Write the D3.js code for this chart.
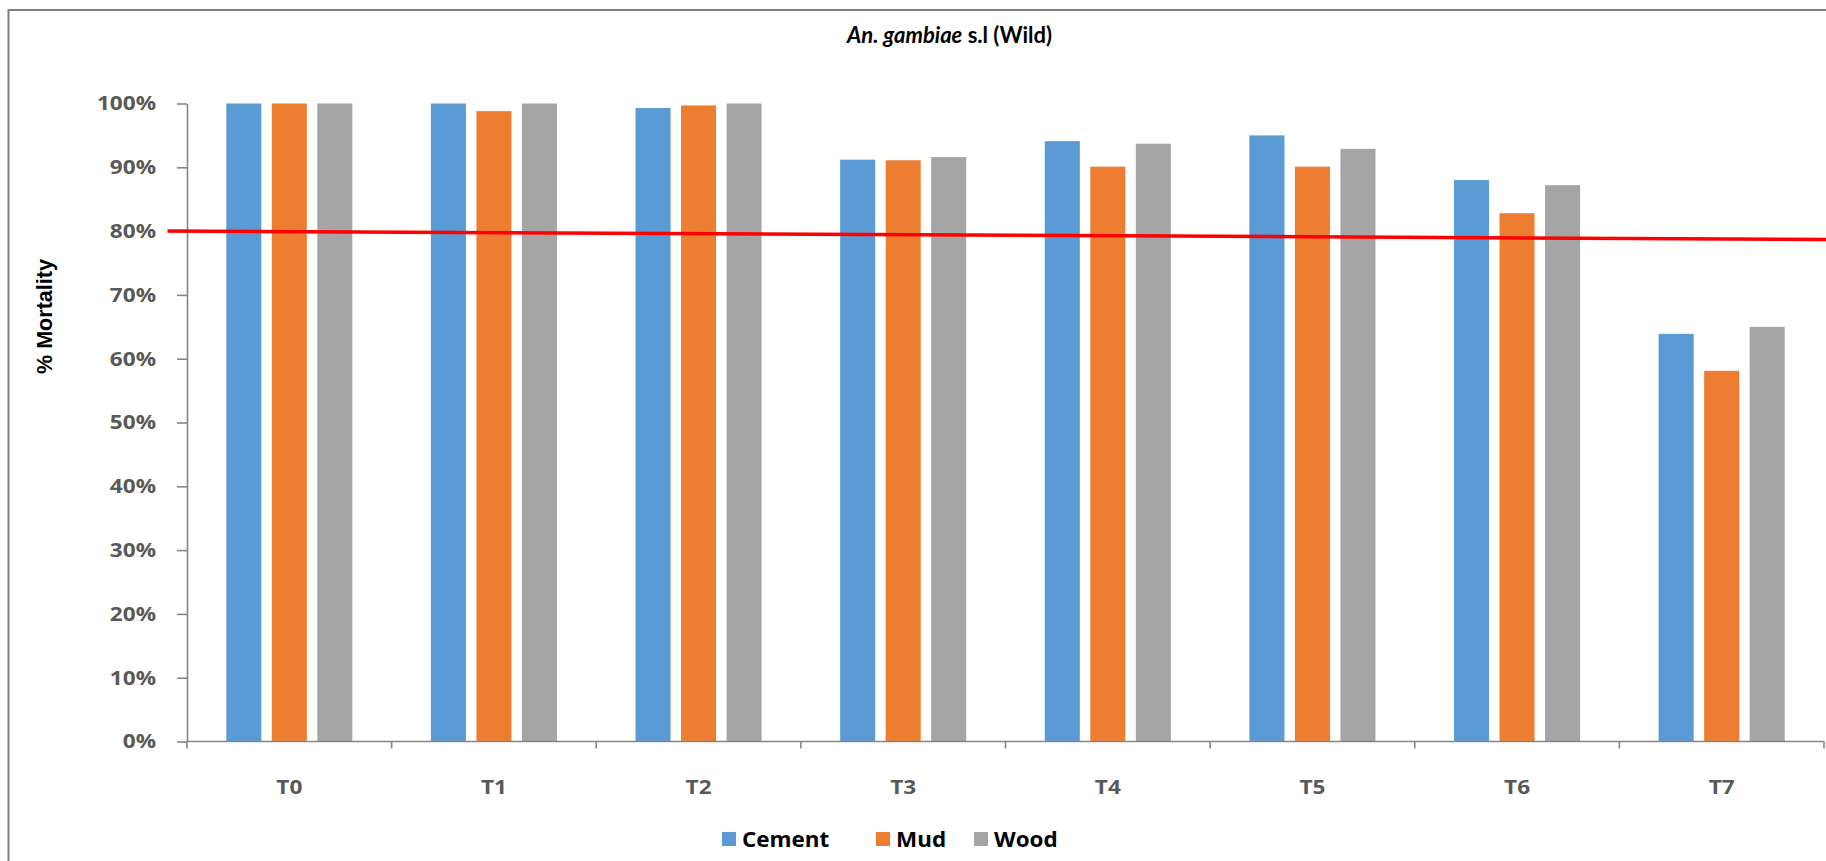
<!DOCTYPE html>
<html>
<head>
<meta charset="utf-8">
<script src="https://cdn.jsdelivr.net/npm/d3@7"></script>
<style>
  html, body { margin: 0; padding: 0; background: #fff; }
  svg { display: block; }
</style>
</head>
<body>
<svg id="chart" width="1826" height="861"></svg>
<script>
// ---- data ----
const categories = ["T0", "T1", "T2", "T3", "T4", "T5", "T6", "T7"];
const seriesNames = ["Cement", "Mud", "Wood"];
const cement = [1.00, 1.00, 0.993, 0.912, 0.941, 0.950, 0.880, 0.639];
const mud    = [1.00, 0.988, 0.997, 0.911, 0.901, 0.901, 0.828, 0.581];
const wood   = [1.00, 1.00, 1.00, 0.916, 0.937, 0.929, 0.872, 0.650];
const seriesColors = ["#5B9BD5", "#ED7D31", "#A5A5A5"];
const yTickValues = [0, 0.1, 0.2, 0.3, 0.4, 0.5, 0.6, 0.7, 0.8, 0.9, 1.0];
// 80% mortality threshold line, value at its left and right ends
const thresholdEnds = [0.80, 0.787];
const titleItalic = "An. gambiae";
const titleRest = " s.l (Wild)";
const yAxisTitle = "% Mortality";

const seriesValues = [cement, mud, wood];
const rows = categories.map((c, i) => ({
  cat: c,
  vals: seriesNames.map((s, j) => ({ key: s, value: seriesValues[j][i], color: seriesColors[j] }))
}));

// ---- layout ----
const W = 1826, H = 861;
const plot = { left: 187, right: 1824, top: 103.5, bottom: 741.5 };
const axisColor = "#868686";
const tickFont = "'Open Sans', sans-serif";
const hStretch = 1.13; // horizontal widening applied to the axis text

const svg = d3.select("#chart");

// stretch a text selection horizontally by factor k
function stretch(sel, k) {
  sel.each(function () {
    const w = this.getComputedTextLength();
    d3.select(this).attr("textLength", w * k).attr("lengthAdjust", "spacingAndGlyphs");
  });
}
function fitTo(sel, width) {
  sel.attr("textLength", width).attr("lengthAdjust", "spacingAndGlyphs");
}

// chart frame
svg.append("rect")
  .attr("x", 8.5).attr("y", 10)
  .attr("width", W + 20).attr("height", H + 20)
  .attr("fill", "#fff")
  .attr("stroke", "#7f7f7f").attr("stroke-width", 2);

// ---- scales ----
const x0 = d3.scaleBand().domain(categories).range([plot.left, plot.right]).paddingInner(0).paddingOuter(0);
const x1 = d3.scaleBand().domain(seriesNames).range([0, x0.bandwidth()]).paddingInner(0.23).paddingOuter(0.863);
const y = d3.scaleLinear().domain([0, 1]).range([plot.bottom, plot.top]);

// ---- bars ----
const groups = svg.append("g").selectAll("g")
  .data(rows).join("g")
  .attr("transform", d => `translate(${x0(d.cat)},0)`);
groups.selectAll("rect")
  .data(d => d.vals).join("rect")
  .attr("x", d => x1(d.key))
  .attr("y", d => y(d.value))
  .attr("width", x1.bandwidth())
  .attr("height", d => y(0) - y(d.value))
  .attr("fill", d => d.color);

// ---- y axis ----
const yAxis = svg.append("g")
  .attr("transform", `translate(${plot.left},0)`)
  .call(d3.axisLeft(y).tickValues(yTickValues).tickFormat(d3.format(".0%"))
    .tickSize(10).tickSizeOuter(0).tickPadding(21));
yAxis.select(".domain").attr("stroke", axisColor).attr("stroke-width", 1.6);
yAxis.selectAll(".tick line").attr("stroke", axisColor).attr("stroke-width", 1.6);
yAxis.selectAll(".tick text")
  .attr("fill", "#595959")
  .style("font-family", tickFont).style("font-weight", "700").style("font-size", "20px");
stretch(yAxis.selectAll(".tick text"), hStretch);

// ---- x axis ----
const xAxis = svg.append("g")
  .attr("transform", `translate(0,${plot.bottom})`)
  .call(d3.axisBottom(x0).tickSize(0).tickPadding(38.5));
xAxis.select(".domain").remove();
xAxis.selectAll(".tick text")
  .attr("fill", "#595959")
  .style("font-family", tickFont).style("font-weight", "700").style("font-size", "20px");
stretch(xAxis.selectAll(".tick text"), hStretch);

xAxis.append("line")
  .attr("x1", plot.left).attr("x2", plot.right)
  .attr("y1", 0).attr("y2", 0)
  .attr("stroke", axisColor).attr("stroke-width", 1.6);
const boundaries = categories.map(c => x0(c)).concat([x0.range()[1]]);
xAxis.selectAll("line.boundary")
  .data(boundaries).join("line")
  .attr("class", "boundary")
  .attr("x1", d => d).attr("x2", d => d)
  .attr("y1", 0).attr("y2", 7)
  .attr("stroke", axisColor).attr("stroke-width", 1.6);

// ---- threshold line ----
svg.append("line")
  .attr("x1", plot.left - 19.5).attr("x2", W)
  .attr("y1", y(thresholdEnds[0])).attr("y2", y(thresholdEnds[1]))
  .attr("stroke", "#ff0000").attr("stroke-width", 3.5);

// ---- title ----
const title = svg.append("text")
  .attr("x", 949.5).attr("y", 43)
  .attr("text-anchor", "middle")
  .style("font-family", "Lato, sans-serif").style("font-weight", "700").style("font-size", "23px")
  .attr("fill", "#000");
title.append("tspan").style("font-style", "italic").text(titleItalic);
title.append("tspan").text(titleRest);
fitTo(title, 205);

// ---- y axis title ----
const yt = svg.append("text")
  .attr("transform", `translate(52,316.5) rotate(-90)`)
  .attr("text-anchor", "middle")
  .style("font-family", "'Liberation Sans Narrow', 'Arial Narrow', 'Liberation Sans', sans-serif")
  .style("font-weight", "700").style("font-size", "22px")
  .attr("fill", "#000")
  .text(yAxisTitle);
fitTo(yt, 115);

// ---- legend ----
const legend = svg.append("g");
const legendX = [722, 876, 974];
const legendBaseline = 847;
seriesNames.forEach((s, i) => {
  legend.append("rect")
    .attr("x", legendX[i]).attr("y", 832)
    .attr("width", 14).attr("height", 14)
    .attr("fill", seriesColors[i]);
  const t = legend.append("text")
    .attr("x", legendX[i] + 20).attr("y", legendBaseline)
    .style("font-family", tickFont).style("font-weight", "700").style("font-size", "22px")
    .attr("fill", "#000")
    .text(s);
  stretch(t, 1.02);
});
</script>
</body>
</html>
